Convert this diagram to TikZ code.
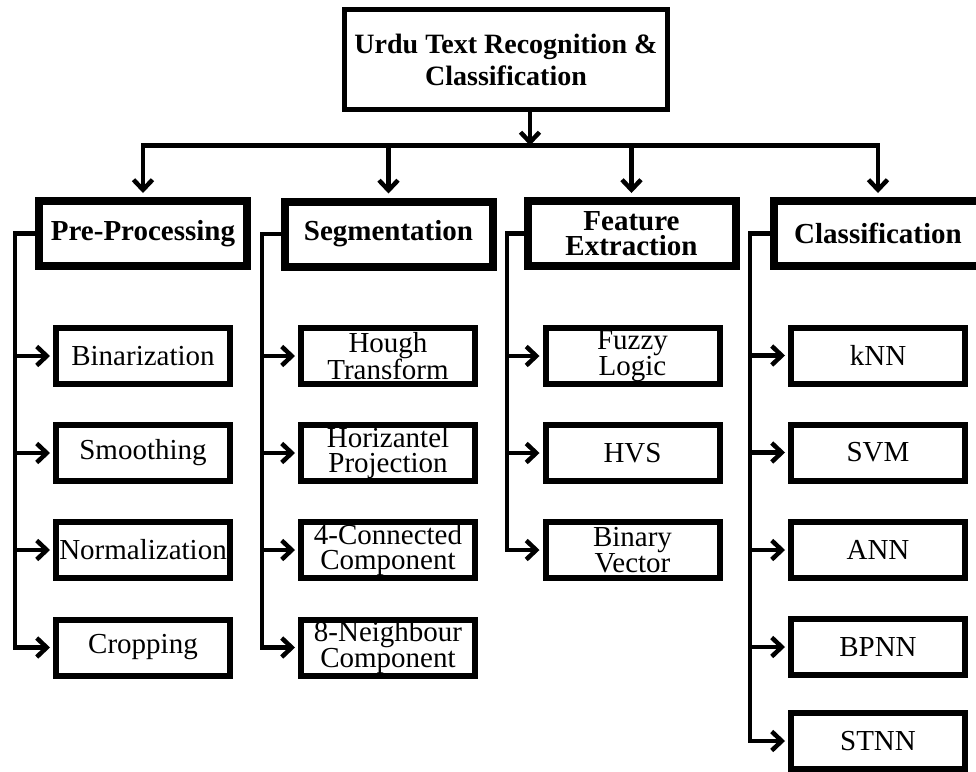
\documentclass[tikz,border=0pt]{standalone}
\usepackage{fontspec}
\setmainfont{Liberation Serif}
\usetikzlibrary{arrows.meta}
\begin{document}
\begin{tikzpicture}[x=1pt,y=-1pt,
 topbox/.style={draw, line width=5pt, minimum width=323pt, minimum height=100pt, inner sep=0pt, align=center, font=\fontsize{28}{32}\selectfont\bfseries},
 headbox/.style={draw, line width=8pt, minimum width=208pt, minimum height=65pt, inner sep=0pt, align=center, font=\fontsize{29}{25}\selectfont\bfseries},
 leafbox/.style={draw, line width=6pt, minimum width=174pt, minimum height=56pt, inner sep=0pt, align=center, font=\fontsize{29}{25.5}\selectfont},
 conn/.style={line width=4.5pt},
 arr/.style={line width=4.5pt, -{Straight Barb[length=10pt,width=19pt]}, shorten >=3pt},
 arrboth/.style={line width=4.5pt, {Straight Barb[length=10pt,width=19pt]}-{Straight Barb[length=10pt,width=19pt]}, shorten >=4pt, shorten <=4pt},
]
\clip (0,0) rectangle (976,771);
\fill[white] (0,0) rectangle (976,771);

% root
\node[topbox] (root) at (506,59.5) {Urdu Text Recognition \&\\Classification};

% headers
\node[headbox] (pre) at (143,233.5) {Pre-Processing};
\node[headbox] (seg) at (388.5,234) {Segmentation};
\node[headbox] (fea) at (631.5,233.5) {Feature\\Extraction};
\node[headbox] (cla) at (878,233.5) {Classification};

% leaves: pre-processing
\node[leafbox] (p1) at (143,356) {Binarization};
\node[leafbox] (p2) at (143,453) {Smoothing};
\node[leafbox] (p3) at (143,550) {Normalization};
\node[leafbox] (p4) at (143,647.5) {Cropping};

% leaves: segmentation
\node[leafbox] (s1) at (388,356) {Hough\\Transform};
\node[leafbox] (s2) at (388,453) {Horizantel\\Projection};
\node[leafbox] (s3) at (388,550) {4-Connected\\Component};
\node[leafbox] (s4) at (388,647.5) {8-Neighbour\\Component};

% leaves: feature extraction
\node[leafbox] (f1) at (632.5,356) {Fuzzy\\Logic};
\node[leafbox] (f2) at (632.5,453) {HVS};
\node[leafbox] (f3) at (632.5,550) {Binary\\Vector};

% leaves: classification
\node[leafbox] (c1) at (878,355.5) {kNN};
\node[leafbox] (c2) at (878,452.5) {SVM};
\node[leafbox] (c3) at (878,550) {ANN};
\node[leafbox] (c4) at (878,647) {BPNN};
\node[leafbox] (c5) at (878,741) {STNN};

% bus
\coordinate (busmid) at (530,145.5);
\draw[arr, shorten >=0pt] (root.south -| busmid) -- (busmid);
\draw[arrboth] (pre.north) |- (busmid) -| (cla.north);
\draw[arr, shorten >=4pt] (seg.north |- busmid) -- (seg.north);
\draw[arr, shorten >=4pt] (fea.north |- busmid) -- (fea.north);

% brackets
\coordinate (preL) at (15,0);
\coordinate (segL) at (262,0);
\coordinate (feaL) at (507,0);
\coordinate (claL) at (750,0);

\draw[arr] (pre.west) -| (preL |- p4) -- (p4.west);
\foreach \n in {p1,p2,p3} \draw[arr] (preL |- \n) -- (\n.west);

\draw[arr] (seg.west) -| (segL |- s4) -- (s4.west);
\foreach \n in {s1,s2,s3} \draw[arr] (segL |- \n) -- (\n.west);

\draw[arr] (fea.west) -| (feaL |- f3) -- (f3.west);
\foreach \n in {f1,f2} \draw[arr] (feaL |- \n) -- (\n.west);

\draw[arr] (cla.west) -| (claL |- c5) -- (c5.west);
\foreach \n in {c1,c2,c3,c4} \draw[arr] (claL |- \n) -- (\n.west);
\end{tikzpicture}
\end{document}
